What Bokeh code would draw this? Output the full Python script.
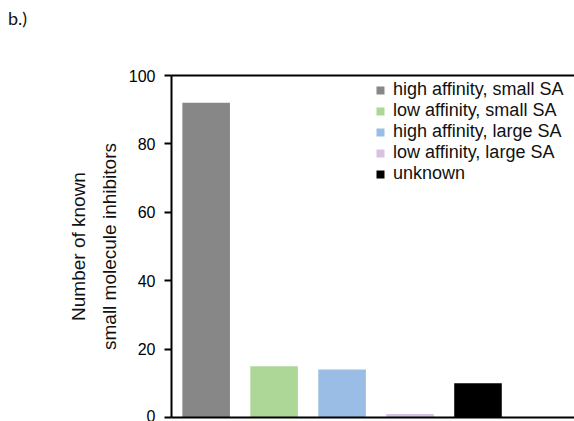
import numpy as np
from bokeh.plotting import figure
from bokeh.models import (ColumnDataSource, Range1d, LinearAxis, FixedTicker,
                          Div)
from bokeh.layouts import column
from bokeh.embed import file_html
from bokeh.resources import INLINE

# ---- data ----
categories = ["high affinity, small SA", "low affinity, small SA",
              "high affinity, large SA", "low affinity, large SA", "unknown"]
counts = [92, 15, 14, 1, 10]
colors = ["#878787", "#acd796", "#99bde4", "#d7c3e1", "#000000"]
y_ticks = [0, 20, 40, 60, 80, 100]

FONT = "Liberation Sans"

src = ColumnDataSource(dict(
    x=np.arange(1, len(categories) + 1),
    top=counts,
    color=colors,
    label=categories,
))

p = figure(width=574, height=383, output_backend="svg", toolbar_location=None,
           x_range=Range1d(0.49, 6.42), y_range=Range1d(0, 100),
           min_border_left=171, min_border_right=0, min_border_top=37,
           min_border_bottom=4, x_axis_location=None, y_axis_location=None)
p.outline_line_color = None
p.grid.visible = False
p.background_fill_color = None
p.border_fill_color = None

p.vbar(x="x", top="top", width=0.7, color="color", line_color=None,
       source=src, legend_field="label")

# y axis
yax = LinearAxis(ticker=FixedTicker(ticks=y_ticks),
                 axis_label="Number of known\nsmall molecule inhibitors")
yax.axis_line_width = 2
yax.axis_line_color = "#000000"
yax.major_tick_line_width = 2
yax.major_tick_line_color = "#000000"
yax.major_tick_out = 7
yax.major_tick_in = 0
yax.minor_tick_line_color = None
yax.major_label_text_font = FONT
yax.major_label_text_font_size = "16px"
yax.major_label_text_color = "#000000"
yax.major_label_standoff = 9
yax.axis_label_text_font = FONT
yax.axis_label_text_font_size = "19px"
yax.axis_label_text_font_style = "normal"
yax.axis_label_text_color = "#111111"
yax.axis_label_text_line_height = 1.45
yax.axis_label_standoff = 6
p.add_layout(yax, "left")

# bottom baseline and top frame line
for place in ("below", "above"):
    ax = LinearAxis(ticker=FixedTicker(ticks=[]))
    ax.axis_line_width = 2
    ax.axis_line_color = "#000000"
    ax.major_tick_line_color = None
    ax.minor_tick_line_color = None
    ax.major_label_text_font_size = "0px"
    ax.major_label_standoff = 0
    ax.major_tick_out = 0
    ax.major_tick_in = 0
    p.add_layout(ax, place)

leg = p.legend[0]
leg.location = (204, 233)
leg.padding = 0
leg.margin = 0
leg.spacing = 0
leg.border_line_color = None
leg.background_fill_alpha = 0
leg.glyph_width = 10
leg.glyph_height = 10
leg.label_height = 18
leg.label_standoff = 8
leg.label_text_font = FONT
leg.label_text_font_size = "18px"
leg.label_text_color = "#111111"

lbl = Div(text="b.)", width=574, height=38, margin=0,
          styles={"font-family": "Lato", "font-size": "18px",
                  "color": "#111111", "padding-top": "9px", "padding-left": "8px",
                  "line-height": "1"})

layout = column(lbl, p, spacing=0)

open("out.html", "w").write(file_html(layout, INLINE))
